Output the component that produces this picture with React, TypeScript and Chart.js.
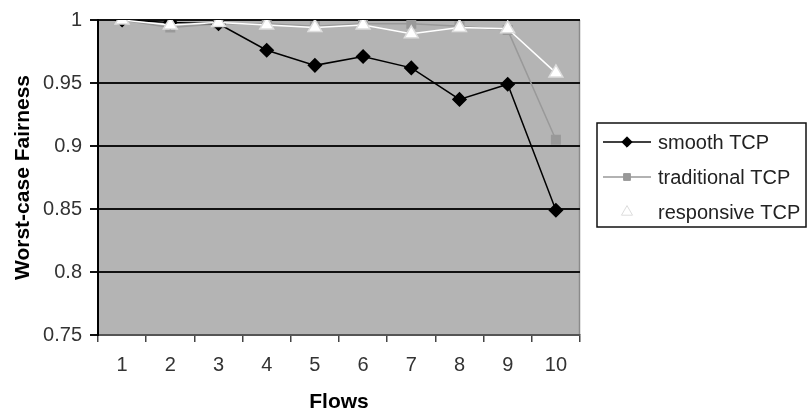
import React, { useEffect, useRef } from 'react';
import { Chart, registerables } from 'chart.js';

Chart.register(...registerables);

const flows = ['1', '2', '3', '4', '5', '6', '7', '8', '9', '10'];
const smoothTCP = [1.0, 0.998, 0.997, 0.976, 0.964, 0.971, 0.962, 0.937, 0.949, 0.849];
const traditionalTCP = [1.0, 0.994, 0.997, 0.997, 0.995, 0.997, 0.997, 0.995, 0.992, 0.905];
const responsiveTCP = [1.0, 0.996, 0.998, 0.996, 0.994, 0.996, 0.989, 0.994, 0.993, 0.958];
const yTickValues = [0.75, 0.8, 0.85, 0.9, 0.95, 1];
const seriesNames = ['smooth TCP', 'traditional TCP', 'responsive TCP'];

const FONT = "'Liberation Sans', Arial, sans-serif";

function drawMarker(ctx: CanvasRenderingContext2D, style: string, x: number, y: number, r: number, fill: string, stroke: string) {
  ctx.save();
  ctx.fillStyle = fill;
  ctx.strokeStyle = stroke;
  ctx.lineWidth = 1;
  ctx.beginPath();
  if (style === 'rectRot') {
    ctx.moveTo(x, y - r);
    ctx.lineTo(x + r, y);
    ctx.lineTo(x, y + r);
    ctx.lineTo(x - r, y);
    ctx.closePath();
  } else if (style === 'rect') {
    const s = r * Math.SQRT1_2;
    ctx.rect(x - s, y - s, 2 * s, 2 * s);
  } else {
    ctx.moveTo(x, y - r);
    ctx.lineTo(x + r * 0.866, y + r / 2);
    ctx.lineTo(x - r * 0.866, y + r / 2);
    ctx.closePath();
  }
  ctx.fill();
  ctx.stroke();
  ctx.restore();
}

const plotBg = {
  id: 'plotBg',
  beforeDraw(chart: any) {
    const { ctx, chartArea } = chart;
    const { left, top, right, bottom } = chartArea;
    ctx.save();
    ctx.fillStyle = '#b4b4b4';
    ctx.fillRect(left, top, right - left, bottom - top);
    ctx.strokeStyle = '#8a8a8a';
    ctx.lineWidth = 1.5;
    ctx.beginPath();
    ctx.moveTo(right - 0.5, top);
    ctx.lineTo(right - 0.5, bottom);
    ctx.stroke();
    ctx.restore();
  },
};

const boxLegend = {
  id: 'boxLegend',
  afterDraw(chart: any) {
    const { ctx } = chart;
    const x0 = 597, y0 = 123, x1 = 806, y1 = 227;
    ctx.save();
    ctx.fillStyle = '#ffffff';
    ctx.fillRect(x0, y0, x1 - x0, y1 - y0);
    ctx.strokeStyle = '#111';
    ctx.lineWidth = 1.5;
    ctx.strokeRect(x0, y0, x1 - x0, y1 - y0);
    chart.data.datasets.forEach((ds: any, i: number) => {
      const cy = 142 + i * 35;
      ctx.strokeStyle = ds.borderColor;
      ctx.lineWidth = ds.borderWidth;
      ctx.beginPath();
      ctx.moveTo(603, cy);
      ctx.lineTo(651, cy);
      ctx.stroke();
      drawMarker(ctx, ds.pointStyle, 627, cy, ds.pointRadius * 0.8, ds.pointBackgroundColor, ds.pointBorderColor);
      ctx.fillStyle = '#222';
      ctx.font = `20px ${FONT}`;
      ctx.textAlign = 'left';
      ctx.textBaseline = 'middle';
      ctx.fillText(ds.label, 658, cy + 1);
    });
    ctx.restore();
  },
};

export default function App() {
  const canvasRef = useRef<HTMLCanvasElement | null>(null);

  useEffect(() => {
    if (!canvasRef.current) return;
    const chart = new Chart(canvasRef.current, {
      type: 'line',
      data: {
        labels: flows,
        datasets: [
          {
            label: seriesNames[0],
            data: smoothTCP,
            borderColor: '#000000',
            borderWidth: 1.5,
            pointStyle: 'rectRot',
            pointRadius: 6.5,
            pointBackgroundColor: '#000000',
            pointBorderColor: '#000000',
            order: 1,
          },
          {
            label: seriesNames[1],
            data: traditionalTCP,
            borderColor: '#999999',
            borderWidth: 1.5,
            pointStyle: 'rect',
            pointRadius: 6,
            pointBackgroundColor: '#999999',
            pointBorderColor: '#999999',
            order: 2,
          },
          {
            label: seriesNames[2],
            data: responsiveTCP,
            borderColor: '#ffffff',
            borderWidth: 1.5,
            pointStyle: 'triangle',
            pointRadius: 8,
            pointBackgroundColor: '#ffffff',
            pointBorderColor: '#dddddd',
            order: 0,
          },
        ],
      },
      options: {
        animation: false,
        responsive: true,
        maintainAspectRatio: false,
        layout: { padding: { left: 0, top: 17, right: 227, bottom: 0 } },
        plugins: { legend: { display: false }, tooltip: { enabled: false } },
        elements: { line: { tension: 0 } },
        scales: {
          x: {
            offset: true,
            afterFit: (s: any) => { s.height = 83; },
            ticks: { font: { family: FONT, size: 20 }, color: '#333', padding: 11, maxRotation: 0, autoSkip: false },
            grid: { offset: true, drawOnChartArea: false, color: '#444', tickLength: 7, lineWidth: 1.5 },
            border: { color: '#555', width: 2 },
            title: { display: true, text: 'Flows', color: '#000', font: { family: FONT, size: 21, weight: 'bold' }, padding: { top: 3, bottom: 3 } },
          },
          y: {
            min: 0.75,
            max: 1,
            afterBuildTicks: (s: any) => { s.ticks = yTickValues.map((v) => ({ value: v })); },
            afterFit: (s: any) => { s.width = 98; },
            ticks: {
              font: { family: FONT, size: 20 },
              color: '#333',
              padding: 8,
              callback: (v: any) => String(Number(Number(v).toFixed(2))),
            },
            grid: { color: '#111', lineWidth: 2, tickLength: 8 },
            border: { color: '#000', width: 2 },
            title: { display: true, text: 'Worst-case Fairness', color: '#000', font: { family: FONT, size: 21, weight: 'bold' }, padding: { top: 11, bottom: 0 } },
          },
        },
      },
      plugins: [plotBg, boxLegend],
    } as any);
    return () => chart.destroy();
  }, []);

  return (
    <div style={{ position: 'absolute', left: 0, top: 0, width: 807, height: 418, background: '#fff' }}>
      <canvas ref={canvasRef} />
    </div>
  );
}
